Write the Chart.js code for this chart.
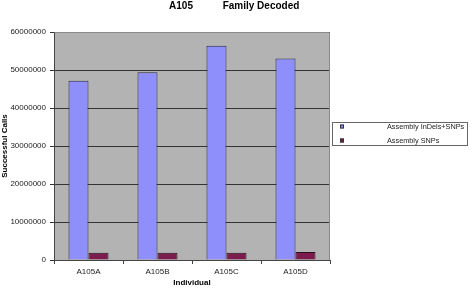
<!DOCTYPE html>
<html><head><meta charset="utf-8">
<script src="https://cdn.jsdelivr.net/npm/chart.js@4"></script>
<style>html,body{margin:0;padding:0;background:#fff}#w{width:472px;height:291px}</style>
</head><body><div id="w"><canvas id="c" width="472" height="291"></canvas></div>
<script>
const categories = ["A105A","A105B","A105C","A105D"];
const indelsSnps = [47200000, 49400000, 56400000, 53000000];
const snps = [1900000, 1900000, 1900000, 2100000];
const seriesNames = ["Assembly InDels+SNPs","Assembly SNPs"];
const titleParts = ["A105", "Family Decoded"];

const FONT = "'Liberation Sans', Arial, sans-serif";

const bgPlugin = {
  id: 'bg',
  beforeDraw(chart) {
    const {ctx, chartArea: a} = chart;
    ctx.save();
    ctx.fillStyle = '#b3b3b3';
    ctx.fillRect(a.left, a.top, a.right - a.left, a.bottom - a.top);
    ctx.restore();
  },
  afterDraw(chart) {
    const {ctx, chartArea: a} = chart;
    ctx.save();
    ctx.strokeStyle = '#8a8a8a';
    ctx.lineWidth = 1;
    ctx.beginPath();
    ctx.moveTo(a.left + 0.5, a.top + 0.5);
    ctx.lineTo(a.right - 0.5, a.top + 0.5);
    ctx.lineTo(a.right - 0.5, a.bottom);
    ctx.stroke();
    // title
    ctx.fillStyle = '#000';
    ctx.font = "bold 10px " + FONT;
    ctx.textAlign = 'center';
    ctx.textBaseline = 'middle';
    ctx.fillText(titleParts[0], 181, 6);
    ctx.fillText(titleParts[1], 261, 6);
    // legend
    const lx = 332, ly = 122, lw = 136, lh = 24;
    ctx.fillStyle = '#fff';
    ctx.fillRect(lx, ly, lw, lh);
    ctx.strokeStyle = '#666';
    ctx.strokeRect(lx + 0.5, ly + 0.5, lw - 1, lh - 1);
    ctx.font = "7.3px " + FONT;
    ctx.textAlign = 'left';
    chart.data.datasets.forEach((ds, i) => {
      const y = ly + 4.5 + i * 14;
      ctx.fillStyle = ds.backgroundColor;
      ctx.fillRect(lx + 8, y - 2, 4, 4);
      ctx.strokeStyle = '#333';
      ctx.strokeRect(lx + 8.5, y - 1.5, 3, 3);
      ctx.fillStyle = '#222';
      ctx.fillText(ds.label, lx + 55, y);
    });
    ctx.restore();
  }
};

new Chart(document.getElementById('c'), {
  type: 'bar',
  data: {
    labels: categories,
    datasets: [
      {label: seriesNames[0], data: indelsSnps, backgroundColor: '#8f8ffb', borderColor: '#2a2a4a', borderWidth: 1, borderSkipped: 'bottom'},
      {label: seriesNames[1], data: snps, backgroundColor: '#7c1c4c', borderColor: '#2a1020', borderWidth: 1, borderSkipped: 'bottom'}
    ]
  },
  plugins: [bgPlugin],
  options: {
    responsive: false,
    animation: false,
    devicePixelRatio: 1,
    layout: {padding: {top: 32, right: 142, left: 0, bottom: 0}},
    datasets: {bar: {categoryPercentage: 0.58, barPercentage: 1.0}},
    plugins: {legend: {display: false}, title: {display: false}, tooltip: {enabled: false}},
    scales: {
      x: {
        grid: {display: true, drawOnChartArea: false, drawTicks: true, tickLength: 4, color: '#444', offset: true},
        border: {display: true, color: '#444'},
        ticks: {color: '#222', font: {family: FONT, size: 8}, padding: 3},
        title: {display: true, text: 'Individual', color: '#000', font: {family: FONT, size: 8, weight: 'bold'}, padding: {top: 8, bottom: 3}},
        afterFit(s) { s.height = 31; }
      },
      y: {
        min: 0, max: 60000000,
        ticks: {stepSize: 10000000, color: '#222', font: {family: FONT, size: 8}, padding: 4,
          callback: v => String(v)},
        grid: {color: '#333', drawTicks: true, tickLength: 4},
        border: {display: true, color: '#444'},
        title: {display: true, text: 'Successful Calls', color: '#000', font: {family: FONT, size: 8, weight: 'bold'}, padding: {top: 0, bottom: 0}},
        afterFit(s) { s.width = 54; }
      }
    }
  }
});
</script>
</body></html>
